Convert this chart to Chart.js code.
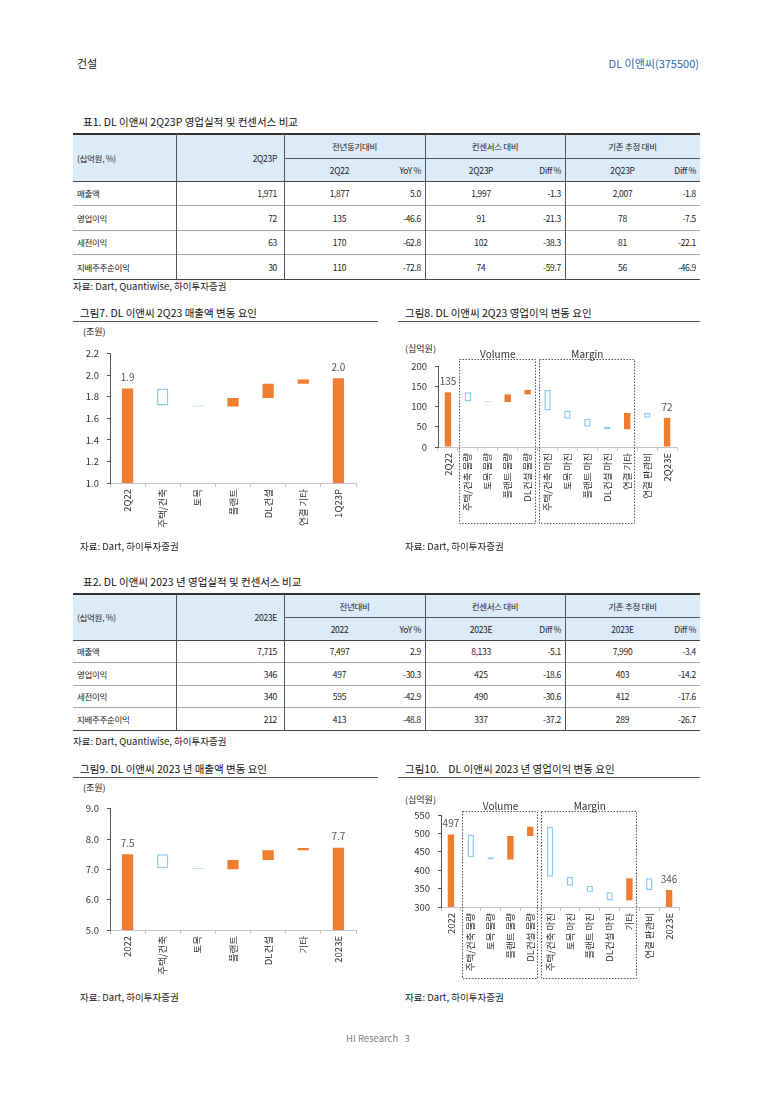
<!DOCTYPE html>
<html>
<head>
<meta charset="utf-8">
<script src="https://cdn.jsdelivr.net/npm/chart.js@4.4.0/dist/chart.umd.min.js"></script>
<style>
  html, body { margin: 0; padding: 0; background: #fff; }
  #page { position: relative; width: 773px; height: 1093px; overflow: hidden;
          font-family: "Noto Sans CJK KR", "Noto Sans", sans-serif; color: #222; }
  .t { position: absolute; white-space: pre; transform: translateY(-50%); line-height: 1; }
  .hl { position: absolute; height: 1px; background: #555; }
  canvas { position: absolute; }
  .cell { position: absolute; display: flex; align-items: center; white-space: nowrap;
          font-size: 8.5px; letter-spacing: -0.3px; color: #222; box-sizing: border-box; }
  .line { position: absolute; }
</style>
</head>
<body>
<div id="page">
  <div class="t" style="left:77px;top:63px;font-size:11px;">건설</div>
  <div class="t" style="right:74px;top:63px;font-size:11px;color:#2b69b0;">DL 이앤씨(375500)</div>

  <div class="t" style="left:83px;top:122px;font-size:10.5px;color:#111;">표1. DL 이앤씨 2Q23P 영업실적 및 컨센서스 비교</div>
  <div id="table1"></div>
  <div class="t" style="left:73px;top:287px;font-size:9.5px;">자료: Dart, Quantiwise, 하이투자증권</div>

  <div class="t" style="left:80px;top:313px;font-size:10.5px;color:#111;">그림7. DL 이앤씨 2Q23 매출액 변동 요인</div>
  <div class="hl" style="left:73px;width:305px;top:321px;"></div>
  <div class="t" style="left:405px;top:313px;font-size:10.5px;color:#111;">그림8. DL 이앤씨 2Q23 영업이익 변동 요인</div>
  <div class="hl" style="left:398px;width:302px;top:321px;"></div>
  <div class="t" style="left:83px;top:331px;font-size:9px;">(조원)</div>
  <div class="t" style="left:405px;top:348px;font-size:9px;">(십억원)</div>
  <canvas id="c7" width="310" height="205" style="left:60px;top:340px;"></canvas>
  <canvas id="c8" width="315" height="192" style="left:395px;top:340px;"></canvas>
  <div class="t" style="left:80px;top:547px;font-size:9.5px;">자료: Dart, 하이투자증권</div>
  <div class="t" style="left:405px;top:547px;font-size:9.5px;">자료: Dart, 하이투자증권</div>

  <div class="t" style="left:83px;top:582px;font-size:10.5px;color:#111;">표2. DL 이앤씨 2023 년 영업실적 및 컨센서스 비교</div>
  <div id="table2"></div>
  <div class="t" style="left:73px;top:742px;font-size:9.5px;">자료: Dart, Quantiwise, 하이투자증권</div>

  <div class="t" style="left:80px;top:769px;font-size:10.5px;color:#111;">그림9. DL 이앤씨 2023 년 매출액 변동 요인</div>
  <div class="hl" style="left:73px;width:305px;top:777px;"></div>
  <div class="t" style="left:405px;top:769px;font-size:10.5px;color:#111;">그림10.    DL 이앤씨 2023 년 영업이익 변동 요인</div>
  <div class="hl" style="left:398px;width:302px;top:777px;"></div>
  <div class="t" style="left:83px;top:787px;font-size:9px;">(조원)</div>
  <div class="t" style="left:405px;top:799px;font-size:9px;">(십억원)</div>
  <canvas id="c9" width="310" height="195" style="left:60px;top:795px;"></canvas>
  <canvas id="c10" width="315" height="190" style="left:395px;top:795px;"></canvas>
  <div class="t" style="left:80px;top:998px;font-size:9.5px;">자료: Dart, 하이투자증권</div>
  <div class="t" style="left:405px;top:998px;font-size:9.5px;">자료: Dart, 하이투자증권</div>

  <div class="t" style="left:0;width:756px;text-align:center;top:1039px;font-size:9.5px;color:#808080;">HI Research   3</div>
</div>

<script>
// ---------------- DATA ----------------
// Table 1 (2Q23P)
const table1Main = '2Q23P';
const table1Groups = ['전년동기대비', '컨센서스 대비', '기존 추정 대비'];
const table1Subs = ['2Q22', 'YoY %', '2Q23P', 'Diff %', '2Q23P', 'Diff %'];
const table1Rows = ['매출액', '영업이익', '세전이익', '지배주주순이익'];
const table1Values = [
  ['1,971', '1,877', '5.0', '1,997', '-1.3', '2,007', '-1.8'],
  ['72', '135', '-46.6', '91', '-21.3', '78', '-7.5'],
  ['63', '170', '-62.8', '102', '-38.3', '81', '-22.1'],
  ['30', '110', '-72.8', '74', '-59.7', '56', '-46.9']
];
// Table 2 (2023E)
const table2Main = '2023E';
const table2Groups = ['전년대비', '컨센서스 대비', '기존 추정 대비'];
const table2Subs = ['2022', 'YoY %', '2023E', 'Diff %', '2023E', 'Diff %'];
const table2Rows = ['매출액', '영업이익', '세전이익', '지배주주순이익'];
const table2Values = [
  ['7,715', '7,497', '2.9', '8,133', '-5.1', '7,990', '-3.4'],
  ['346', '497', '-30.3', '425', '-18.6', '403', '-14.2'],
  ['340', '595', '-42.9', '490', '-30.6', '412', '-17.6'],
  ['212', '413', '-48.8', '337', '-37.2', '289', '-26.7']
];

// Figure 7: 2Q23 sales bridge (조원)
const fig7Categories = ['2Q22', '주택/건축', '토목', '플랜트', 'DL건설', '연결 기타', '1Q23P'];
const fig7From = [0, 1.877, 1.72, 1.71, 1.79, 1.92, 0];
const fig7To   = [1.877, 1.72, 1.71, 1.79, 1.92, 1.96, 1.971];
const fig7ValueLabels = ['1.9', null, null, null, null, null, '2.0'];
const fig7YTicks = [1.0, 1.2, 1.4, 1.6, 1.8, 2.0, 2.2];

// Figure 8: 2Q23 operating profit bridge (십억원)
const fig8Categories = ['2Q22', '주택/건축 물량', '토목 물량', '플랜트 물량', 'DL건설 물량',
  '주택/건축 마진', '토목 마진', '플랜트 마진', 'DL건설 마진', '연결 기타', '연결 판관비', '2Q23E'];
const fig8From = [0, 135, 113, 111, 130, 141, 90, 70, 50, 44, 84, 0];
const fig8To   = [135, 113, 111, 130, 141, 90, 70, 50, 44, 84, 72, 72];
const fig8ValueLabels = ['135', null, null, null, null, null, null, null, null, null, null, '72'];
const fig8YTicks = [0, 50, 100, 150, 200];
const fig8Groups = [{ name: 'Volume', first: 1, last: 4 }, { name: 'Margin', first: 5, last: 9 }];

// Figure 9: 2023 sales bridge (조원)
const fig9Categories = ['2022', '주택/건축', '토목', '플랜트', 'DL건설', '기타', '2023E'];
const fig9From = [0, 7.497, 7.04, 7.00, 7.31, 7.63, 0];
const fig9To   = [7.497, 7.04, 7.00, 7.31, 7.63, 7.70, 7.715];
const fig9ValueLabels = ['7.5', null, null, null, null, null, '7.7'];
const fig9YTicks = [5.0, 6.0, 7.0, 8.0, 9.0];

// Figure 10: 2023 operating profit bridge (십억원)
const fig10Categories = ['2022', '주택/건축 물량', '토목 물량', '플랜트 물량', 'DL건설 물량',
  '주택/건축 마진', '토목 마진', '플랜트 마진', 'DL건설 마진', '기타', '연결 판관비', '2023E'];
const fig10From = [0, 497, 435, 429, 493, 518, 382, 358, 340, 318, 378, 0];
const fig10To   = [497, 435, 429, 493, 518, 382, 358, 340, 318, 378, 346, 346];
const fig10ValueLabels = ['497', null, null, null, null, null, null, null, null, null, null, '346'];
const fig10YTicks = [300, 350, 400, 450, 500, 550];
const fig10Groups = [{ name: 'Volume', first: 1, last: 4 }, { name: 'Margin', first: 5, last: 9 }];

// ---------------- TABLES ----------------
function buildTable(hostId, geo, main, groups, subs, rows, values) {
  const host = document.getElementById(hostId);
  const add = (html) => host.insertAdjacentHTML('beforeend', html);
  const X = [73, 176, 284, 425, 565, 700];            // major column edges
  const subA = [[284, 395], [425, 537], [565, 680]];   // sub-column A spans
  const cell = (l, w, t, h, txt, align, pad) =>
    add(`<div class="cell" style="left:${l}px;width:${w}px;top:${t}px;height:${h}px;justify-content:${align};padding:0 ${pad || 0}px;">${txt}</div>`);
  const hline = (l, r, y, c, th) =>
    add(`<div class="line" style="left:${l}px;width:${r - l}px;top:${y - th / 2}px;height:${th}px;background:${c};"></div>`);
  const vline = (x, t, b, c) =>
    add(`<div class="line" style="left:${x}px;width:1px;top:${t}px;height:${b - t}px;background:${c};"></div>`);

  const { top, mid, hb, rowEdges } = geo;
  add(`<div class="line" style="left:${X[0]}px;width:${X[5] - X[0]}px;top:${top}px;height:${hb - top}px;background:#dcebf8;"></div>`);
  cell(X[0], X[1] - X[0], top, hb - top, '(십억원, %)', 'flex-start', 4);
  cell(X[1], X[2] - X[1], top, hb - top, main, 'flex-end', 7);
  for (let g = 0; g < 3; g++) {
    cell(X[g + 2], X[g + 3] - X[g + 2], top, mid - top, groups[g], 'center', 0);
    cell(subA[g][0], subA[g][1] - subA[g][0], mid, hb - mid, subs[g * 2], 'center', 0);
    cell(subA[g][1], X[g + 3] - subA[g][1], mid, hb - mid, subs[g * 2 + 1], 'flex-end', 4);
  }
  rows.forEach((r, i) => {
    const t = rowEdges[i], h = rowEdges[i + 1] - rowEdges[i];
    cell(X[0], X[1] - X[0], t, h, r, 'flex-start', 4);
    cell(X[1], X[2] - X[1], t, h, values[i][0], 'flex-end', 7);
    for (let g = 0; g < 3; g++) {
      cell(subA[g][0], subA[g][1] - subA[g][0], t, h, values[i][1 + g * 2], 'center', 0);
      cell(subA[g][1], X[g + 3] - subA[g][1], t, h, values[i][2 + g * 2], 'flex-end', 4);
    }
    if (i > 0) hline(X[0], X[5], t, '#a8a8a8', 1);
  });
  hline(X[0], X[5], top, '#333', 1.5);
  hline(X[2], X[5], mid, '#555', 1);
  hline(X[0], X[5], hb, '#444', 1);
  hline(X[0], X[5], rowEdges[rowEdges.length - 1], '#444', 1);
  [X[1], X[2], X[3], X[4]].forEach(x => vline(x, top, rowEdges[rowEdges.length - 1], '#555'));
}
buildTable('table1', { top: 134, mid: 158, hb: 181, rowEdges: [181, 205.5, 230, 254.5, 279] },
  table1Main, table1Groups, table1Subs, table1Rows, table1Values);
buildTable('table2', { top: 594, mid: 617, hb: 640, rowEdges: [640, 662.5, 685, 707.5, 730] },
  table2Main, table2Groups, table2Subs, table2Rows, table2Values);

// ---------------- CHARTS ----------------
const FONT = '"Noto Sans CJK KR", "Noto Sans", sans-serif';
Chart.defaults.font.family = FONT;
const ORANGE = '#ee7d2f';
const BLUE = '#8fcbec';

const valueLabelPlugin = {
  id: 'valueLabels',
  afterDatasetsDraw(chart, args, opts) {
    if (!opts.labels) return;
    const meta = chart.getDatasetMeta(0);
    const ctx = chart.ctx;
    ctx.save();
    ctx.font = `${opts.size}px ${FONT}`;
    ctx.fillStyle = opts.color;
    ctx.textAlign = 'center';
    ctx.textBaseline = 'bottom';
    opts.labels.forEach((t, i) => {
      if (t == null) return;
      const el = meta.data[i];
      ctx.fillText(t, el.x, el.y - opts.offset);
    });
    ctx.restore();
  }
};

const groupBoxPlugin = {
  id: 'groupBoxes',
  afterDraw(chart, args, opts) {
    if (!opts.groups) return;
    const xs = chart.scales.x, area = chart.chartArea, ctx = chart.ctx;
    const w = xs.getPixelForValue(1) - xs.getPixelForValue(0);
    const top = Math.round(area.top + opts.topOffset) + 0.5;
    const bottom = Math.round(area.bottom + opts.bottomOffset) + 0.5;
    ctx.save();
    ctx.strokeStyle = '#555';
    ctx.lineWidth = 1;
    ctx.setLineDash([1.5, 1.5]);
    opts.groups.forEach(g => {
      const left = Math.round(xs.getPixelForValue(g.first) - w / 2 + 1) + 0.5;
      const right = Math.round(xs.getPixelForValue(g.last) + w / 2 - 3) + 0.5;
      ctx.strokeRect(left, top, right - left, bottom - top);
    });
    ctx.setLineDash([]);
    ctx.font = `10px ${FONT}`;
    ctx.fillStyle = '#333';
    ctx.textAlign = 'center';
    ctx.textBaseline = 'bottom';
    opts.groups.forEach(g => {
      const left = xs.getPixelForValue(g.first) - w / 2;
      const right = xs.getPixelForValue(g.last) + w / 2;
      ctx.fillText(g.name, (left + right) / 2, top);
    });
    ctx.restore();
  }
};

function waterfall(id, cfg) {
  const { cats, from, to, labels, yTicks, decimals, yAxisWidth, xAxisHeight, padTop, padRight, groups, boxTop, boxBottom } = cfg;
  const down = (i) => to[i] < from[i];
  new Chart(document.getElementById(id), {
    type: 'bar',
    data: {
      labels: cats,
      datasets: [{
        data: cats.map((c, i) => [from[i], to[i]]),
        backgroundColor: (c) => down(c.dataIndex) ? '#ffffff' : ORANGE,
        borderColor: (c) => down(c.dataIndex) ? BLUE : ORANGE,
        borderWidth: (c) => down(c.dataIndex) ? 1.5 : 0,
        borderSkipped: false,
        barPercentage: 0.32,
        categoryPercentage: 1,
        clip: { left: 10, right: 10, top: 10, bottom: 0 }
      }]
    },
    options: {
      responsive: false,
      animation: false,
      layout: { padding: { top: padTop, right: padRight, left: 0, bottom: 0 } },
      plugins: {
        legend: { display: false },
        tooltip: { enabled: false },
        valueLabels: { labels, size: 10, color: '#555', offset: 6 },
        groupBoxes: { groups, topOffset: boxTop, bottomOffset: boxBottom }
      },
      scales: {
        x: {
          grid: { display: true, drawOnChartArea: false, drawTicks: true, tickLength: 4, color: '#c4c4c4', offset: true },
          border: { color: '#c4c4c4' },
          ticks: { autoSkip: false, maxRotation: 90, minRotation: 90, padding: 2, color: '#333', font: { size: 9.5 } },
          afterFit: (s) => { s.height = xAxisHeight; }
        },
        y: {
          min: yTicks[0],
          max: yTicks[yTicks.length - 1],
          grid: { display: true, drawOnChartArea: false, drawTicks: true, tickLength: 3, color: '#555' },
          border: { color: '#555' },
          ticks: { color: '#333', padding: 8, font: { size: 9.5 }, callback: (v) => Number(v).toFixed(decimals) },
          afterBuildTicks: (s) => { s.ticks = yTicks.map(v => ({ value: v })); },
          afterFit: (s) => { s.width = yAxisWidth; }
        }
      }
    },
    plugins: [valueLabelPlugin, groupBoxPlugin]
  });
}

waterfall('c7', { cats: fig7Categories, from: fig7From, to: fig7To, labels: fig7ValueLabels, yTicks: fig7YTicks,
  decimals: 1, yAxisWidth: 50, xAxisHeight: 62, padTop: 10, padRight: 14 });
waterfall('c8', { cats: fig8Categories, from: fig8From, to: fig8To, labels: fig8ValueLabels, yTicks: fig8YTicks,
  decimals: 0, yAxisWidth: 43, xAxisHeight: 85, padTop: 26, padRight: 33, groups: fig8Groups, boxTop: -7, boxBottom: 76 });
waterfall('c9', { cats: fig9Categories, from: fig9From, to: fig9To, labels: fig9ValueLabels, yTicks: fig9YTicks,
  decimals: 1, yAxisWidth: 50, xAxisHeight: 60, padTop: 10, padRight: 14 });
waterfall('c10', { cats: fig10Categories, from: fig10From, to: fig10To, labels: fig10ValueLabels, yTicks: fig10YTicks,
  decimals: 0, yAxisWidth: 46, xAxisHeight: 78, padTop: 20, padRight: 31, groups: fig10Groups, boxTop: -4, boxBottom: 71 });
</script>
</body>
</html>
